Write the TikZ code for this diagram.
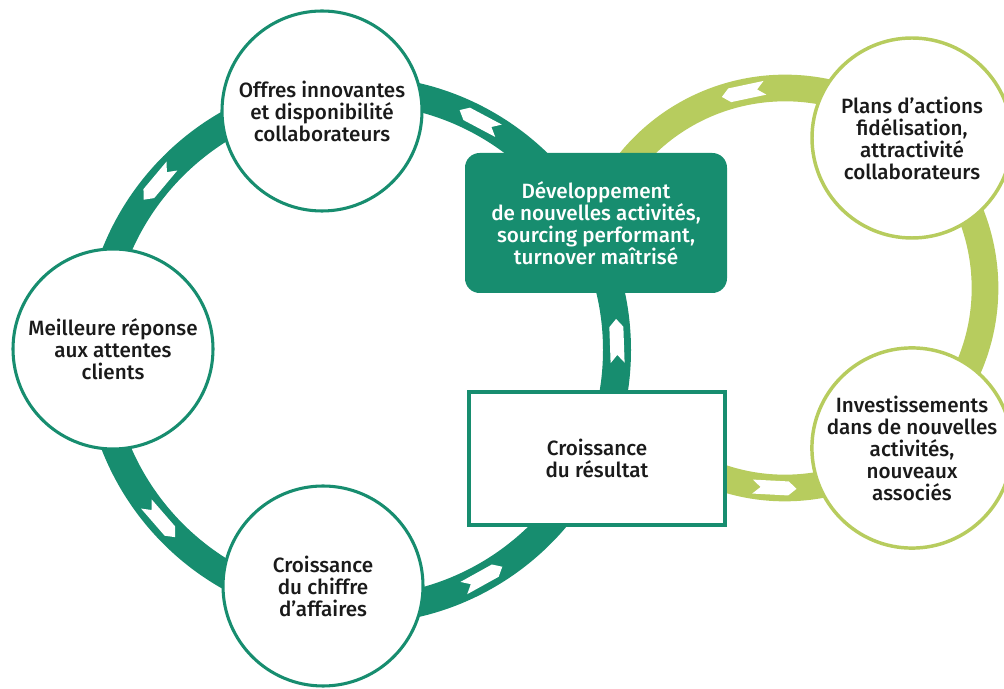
\documentclass[tikz,border=0pt]{standalone}
\usepackage{fontspec}
\setmainfont{Fira Sans Medium}
\definecolor{vertfonce}{HTML}{178D6F}
\definecolor{vertclair}{HTML}{B7CC5E}
\definecolor{texte}{HTML}{1A1A1A}
\tikzset{
	etape/.style={circle, fill=white, line width=2.3pt, minimum size=150pt, inner sep=0pt,
		align=center, text=texte, font=\fontsize{15.5}{16.5}\selectfont},
	etapefonce/.style={etape, draw=vertfonce},
	etapeclair/.style={etape, draw=vertclair, line width=2.6pt},
	fleche/.pic={\fill[white] (-22,-7) -- (14,-7) -- (22,0) -- (14,7) -- (-22,7) -- (-14,0) -- cycle;}
}
\begin{document}
\begin{tikzpicture}[x=0.75pt,y=0.75pt]
		\clip (0,0) rectangle (1004,689);
		
		% Define points
		\coordinate (anneau1) at (357,339);
		\coordinate (anneau2) at (785,401);
		
		% Draw rings
		\draw[vertfonce, line width=21pt] (anneau1) circle (260);
		\draw[vertclair, line width=20pt] (anneau2) ++(145:200) arc[start angle=145, end angle=-120, radius=200];
		
		% Draw arrows on the rings
		\foreach \a in {62,140,221,299,2}
			\path (anneau1) ++(\a:260) pic[rotate=\a+90] {fleche};
		\foreach \a in {102,267}
			\path (anneau2) ++(\a:200) pic[rotate=\a+90] {fleche};
		
		% Draw steps
		\node[etapefonce] (offres) at (322,578) {Offres innovantes\\et disponibilité\\collaborateurs};
		\node[etapefonce] (clients) at (113,340) {Meilleure réponse\\aux attentes\\clients};
		\node[etapefonce] (chiffre) at (323,103) {Croissance\\du chiffre\\d’affaires};
		\node[etapeclair] (plans) at (912,551) {Plans d’actions\\fidélisation,\\attractivité\\collaborateurs};
		\node[etapeclair] (invest) at (912,241) {Investissements\\dans de nouvelles\\activités,\\nouveaux\\associés};
		
		% Draw boxes
		\node[fill=vertfonce, rounded corners=11pt, minimum width=196.5pt, minimum height=105pt,
			align=center, text=white, font=\fontsize{15.5}{16.5}\selectfont] (dev) at (596,466)
			{Développement\\de nouvelles activités,\\sourcing performant,\\turnover maîtrisé};
		\node[draw=vertfonce, fill=white, line width=3pt, minimum width=192pt, minimum height=100pt,
			align=center, text=texte, font=\fontsize{15.5}{16.5}\selectfont] (resultat) at (597,230.5)
			{Croissance\\du résultat};
		
	\end{tikzpicture}
\end{document}
